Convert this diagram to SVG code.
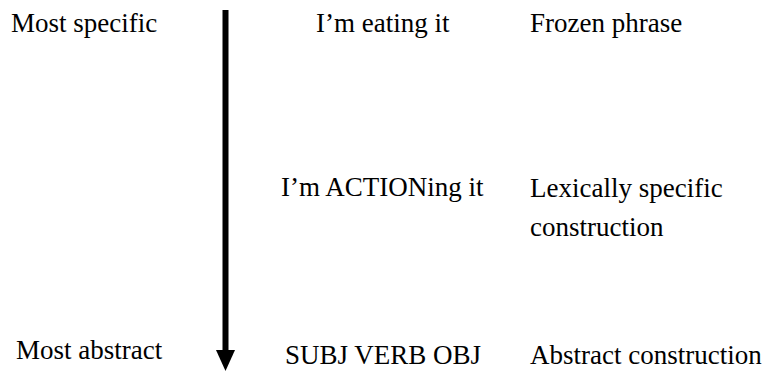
<svg xmlns="http://www.w3.org/2000/svg" width="766" height="371" viewBox="0 0 766 371">
<style>
.t{font-family:'Liberation Serif','Times New Roman',serif;font-size:27px;fill:#000}
</style>
<rect width="766" height="371" fill="#fff"/>
<g id="connectors">
<line x1="225.5" y1="10" x2="225.5" y2="352" stroke="#000" stroke-width="6"/>
<polygon points="216,350 235,350 225.5,371" fill="#000"/>
</g>
<g id="most-specific"><text class="t" x="11" y="32">Most specific</text></g>
<g id="eating"><text class="t" x="316" y="32">I’m eating it</text></g>
<g id="frozen"><text class="t" x="530" y="32">Frozen phrase</text></g>
<g id="actioning"><text class="t" x="281" y="196">I’m ACTIONing it</text></g>
<g id="lexically"><text class="t" x="530" y="197">Lexically specific</text><text class="t" x="530" y="236">construction</text></g>
<g id="most-abstract"><text class="t" x="16" y="359">Most abstract</text></g>
<g id="subj"><text class="t" x="285" y="364">SUBJ VERB OBJ</text></g>
<g id="abstract"><text class="t" x="530" y="364">Abstract construction</text></g>
</svg>
